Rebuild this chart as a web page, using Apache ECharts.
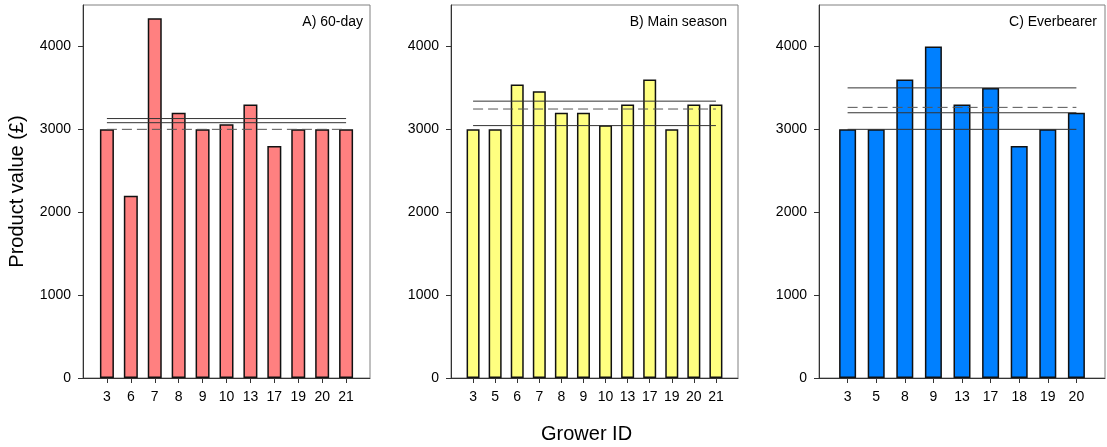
<!DOCTYPE html>
<html>
<head>
<meta charset="utf-8">
<script src="https://cdn.jsdelivr.net/npm/echarts@6/dist/echarts.min.js"></script>
<style>
  html, body { margin: 0; padding: 0; background: #fff; }
  #main { width: 1107px; height: 447px; }
</style>
</head>
<body>
<div id="main"></div>
<script>
// grower IDs and product values
var idsA = ['3', '6', '7', '8', '9', '10', '13', '17', '19', '20', '21'];
var valuesA = [3000, 2200, 4340, 3200, 3000, 3060, 3300, 2800, 3000, 3000, 3000];
var solidA = [3130, 3080];
var dashedA = [3000];

var idsB = ['3', '5', '6', '7', '8', '9', '10', '13', '17', '19', '20', '21'];
var valuesB = [3000, 3000, 3540, 3460, 3200, 3200, 3050, 3300, 3600, 3000, 3300, 3300];
var solidB = [3340, 3045];
var dashedB = [3245];

var idsC = ['3', '5', '8', '9', '13', '17', '18', '19', '20'];
var valuesC = [3000, 3000, 3600, 4000, 3300, 3500, 2800, 3000, 3200];
var solidC = [3500, 3200, 3000];
var dashedC = [3265];

var yTicks = [0, 1000, 2000, 3000, 4000];

var font = 'Liberation Sans, Arial, sans-serif';

var panels = [
    { title: 'A) 60-day', ids: idsA, values: valuesA, solid: solidA, dashed: dashedA,
      color: '#FF8080', left: 83, width: 287, barWidth: 14, titleRight: 744 },
    { title: 'B) Main season', ids: idsB, values: valuesB, solid: solidB, dashed: dashedB,
      color: '#FFFF80', left: 451, width: 287, barWidth: 13, titleRight: 380 },
    { title: 'C) Everbearer', ids: idsC, values: valuesC, solid: solidC, dashed: dashedC,
      color: '#0080FF', left: 819, width: 286, barWidth: 17, titleRight: 10 }
];

var grids = [], xAxes = [], yAxes = [], series = [], titles = [];

panels.forEach(function (p, k) {
    var n = p.ids.length;
    var pos = p.ids.map(function (_, i) { return i + 1; });

    grids.push({
        left: p.left, width: p.width, top: 5, height: 373,
        show: true, borderColor: '#808080', borderWidth: 1, backgroundColor: 'transparent'
    });
    xAxes.push({
        gridIndex: k, type: 'value', min: 0, max: n + 1,
        splitLine: { show: false },
        axisLine: { lineStyle: { color: '#333', width: 1 } },
        axisTick: { customValues: pos, length: 5, lineStyle: { color: '#333' } },
        axisLabel: {
            customValues: pos, margin: 12, fontSize: 14, color: '#000', fontFamily: font,
            formatter: function (v) { return p.ids[v - 1]; }
        }
    });
    yAxes.push({
        gridIndex: k, type: 'value', min: 0, max: 4500,
        splitLine: { show: false },
        axisLine: { show: true, lineStyle: { color: '#333', width: 1 } },
        axisTick: { show: true, customValues: yTicks, length: 5, lineStyle: { color: '#333' } },
        axisLabel: {
            customValues: yTicks, margin: 12, fontSize: 14, color: '#000', fontFamily: font,
            formatter: function (v) { return String(v); }
        },
        name: k === 0 ? 'Product value (£)' : '',
        nameLocation: 'middle', nameGap: 56,
        nameTextStyle: { fontSize: 20, color: '#000', fontFamily: font }
    });
    titles.push({
        text: p.title, right: p.titleRight, top: 15, padding: 0,
        textStyle: { fontSize: 14, fontWeight: 'normal', color: '#000', fontFamily: font }
    });

    series.push({
        type: 'bar', xAxisIndex: k, yAxisIndex: k, barWidth: p.barWidth,
        data: p.values.map(function (v, i) { return [i + 1, v]; }),
        itemStyle: { color: p.color, borderColor: '#111', borderWidth: 1.5 },
        z: 2
    });
    p.solid.forEach(function (v) {
        series.push({
            type: 'line', xAxisIndex: k, yAxisIndex: k, symbol: 'none', silent: true,
            data: [[1, v], [n, v]],
            lineStyle: { color: '#333', width: 1 }, z: 3
        });
    });
    p.dashed.forEach(function (v) {
        series.push({
            type: 'line', xAxisIndex: k, yAxisIndex: k, symbol: 'none', silent: true,
            data: [[1, v], [n, v]],
            lineStyle: { color: '#555', width: 1, type: [10, 5] }, z: 3
        });
    });
});

var myChart = echarts.init(document.getElementById('main'));
myChart.setOption({
    animation: false,
    title: titles,
    grid: grids,
    xAxis: xAxes,
    yAxis: yAxes,
    series: series,
    graphic: [{
        type: 'text', left: 541, top: 424,
        style: { text: 'Grower ID', fontSize: 20, fill: '#000', fontFamily: font }
    }]
});
</script>
</body>
</html>
